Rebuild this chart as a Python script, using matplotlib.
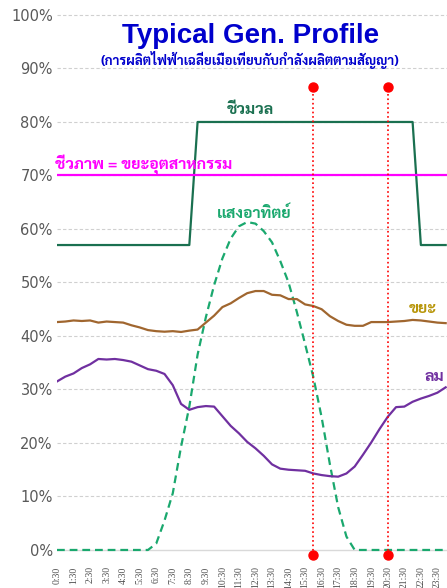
import numpy as np
import matplotlib
matplotlib.use('Agg')
import matplotlib.pyplot as plt
from matplotlib.ticker import PercentFormatter

THAI = ['Sarabun', 'Noto Sans Thai Looped', 'Noto Sans Thai', 'Bai Jamjuree', 'DejaVu Sans']

# half-hour time axis 0:30 .. 24:00
hours = np.arange(0.5, 24.01, 0.5)
tick_hours = np.arange(0.5, 24, 1.0)
tick_labels = [f"{int(h)}:30" for h in tick_hours]

# average output as % of contracted capacity
biomass = [57] * 17 + [80] * 27 + [57] * 4
biogas = 70
solar = [0] * 12 + [1.2, 5.5, 10.6, 19.3, 26.8, 36.5, 43.5, 49.5, 54.5, 58.2, 60.5, 61.3,
                    61.0, 59.6, 57.5, 54.0, 50.0, 44.5, 38.5, 32.3, 24.8, 16.0, 8.0, 2.5] + [0] * 12
waste = [42.6, 42.7, 42.9, 42.8, 42.9, 42.5, 42.7, 42.6, 42.5, 42.0,
         41.6, 41.1, 40.9, 40.8, 40.9, 40.75, 41.0, 41.2, 42.5, 43.8,
         45.4, 46.1, 47.1, 48.0, 48.4, 48.4, 47.7, 47.6, 46.9, 46.9,
         45.9, 45.6, 45.0, 43.7, 42.8, 42.1, 41.9, 41.9, 42.6, 42.6,
         42.6, 42.7, 42.8, 43.0, 42.9, 42.7, 42.5, 42.4]
wind = [31.5, 32.4, 33.0, 34.0, 34.7, 35.7, 35.6, 35.7, 35.5, 35.2,
        34.5, 33.8, 33.5, 32.9, 30.8, 27.3, 26.2, 26.7, 26.9, 26.8,
        25.0, 23.2, 21.8, 20.2, 19.0, 17.6, 16.0, 15.2, 15.0, 14.9,
        14.8, 14.3, 14.0, 13.8, 13.7, 14.3, 15.6, 17.8, 20.1, 22.6,
        24.9, 26.7, 26.8, 27.7, 28.3, 28.8, 29.4, 30.4]

# peak window markers
peak_hours = [16.0, 20.5]
peak_range = [-1, 86.6]

fig = plt.figure(figsize=(4.47, 5.88), dpi=100)
ax = fig.add_axes([57 / 447, 30 / 588, 390 / 447, 558 / 588])

ax.plot(hours, biomass, color='#1a7050', lw=1.6)
ax.axhline(biogas, color='#ff00ff', lw=1.6)
ax.plot(hours, solar, color='#1aa86e', lw=1.6, ls=(0, (3.5, 2.2)))
ax.plot(hours, waste, color='#a0662f', lw=1.6)
ax.plot(hours, wind, color='#7030a0', lw=1.6)

for h in peak_hours:
    ax.plot([h, h], peak_range, color='#ff0000', lw=1.2, ls=':',
            marker='o', ms=6.5, clip_on=False, zorder=5)

ax.set_xlim(0.5, 24.08)
ax.set_ylim(-1.5, 102.8)
ax.set_yticks(np.arange(0, 101, 10))
ax.yaxis.set_major_formatter(PercentFormatter(decimals=0))
ax.set_xticks(tick_hours)
ax.set_xticklabels(tick_labels, rotation=90, fontsize=7, family='Liberation Serif', color='#505050')
ax.tick_params(axis='y', labelsize=10.5, labelcolor='#595959', length=0, pad=3)
ax.tick_params(axis='x', length=0, pad=6)
for s in ax.spines.values():
    s.set_visible(False)
for v in range(10, 101, 10):
    ax.axhline(v, color='#d0d0d0', lw=0.8, ls=(0, (3, 2)), zorder=0)
ax.axhline(0, color='#d9d9d9', lw=1.0, zorder=0)

fig.text(251 / 447, 1 - 36 / 588, 'Typical Gen. Profile', ha='center', va='center',
         fontsize=20, fontweight='bold', color='#0000cc', family='Liberation Sans')
fig.text(250 / 447, 1 - 60 / 588, '(การผลิตไฟฟ้าเฉลี่ยเมื่อเทียบกับกำลังผลิตตามสัญญา)',
         ha='center', va='center', fontsize=9.6, fontweight='bold', color='#0000cc', family=THAI)

ax.text(12.2, 82.3, 'ชีวมวล', ha='center', va='center', fontsize=11.5,
        fontweight='bold', color='#1a7050', family=THAI)
ax.text(0.38, 72.0, 'ชีวภาพ = ขยะอุตสาหกรรม', ha='left', va='center', fontsize=11.5,
        fontweight='bold', color='#ff00ff', family=THAI)
ax.text(12.4, 63.0, 'แสงอาทิตย์', ha='center', va='center', fontsize=11.5,
        fontweight='bold', color='#1aa86e', family=THAI)
ax.text(22.6, 45.0, 'ขยะ', ha='center', va='center', fontsize=11.5,
        fontweight='bold', color='#b8960b', family=THAI)
ax.text(22.75, 32.4, 'ลม', ha='left', va='center', fontsize=11.5,
        fontweight='bold', color='#7030a0', family=THAI)

fig.savefig('out.png', dpi=100)
